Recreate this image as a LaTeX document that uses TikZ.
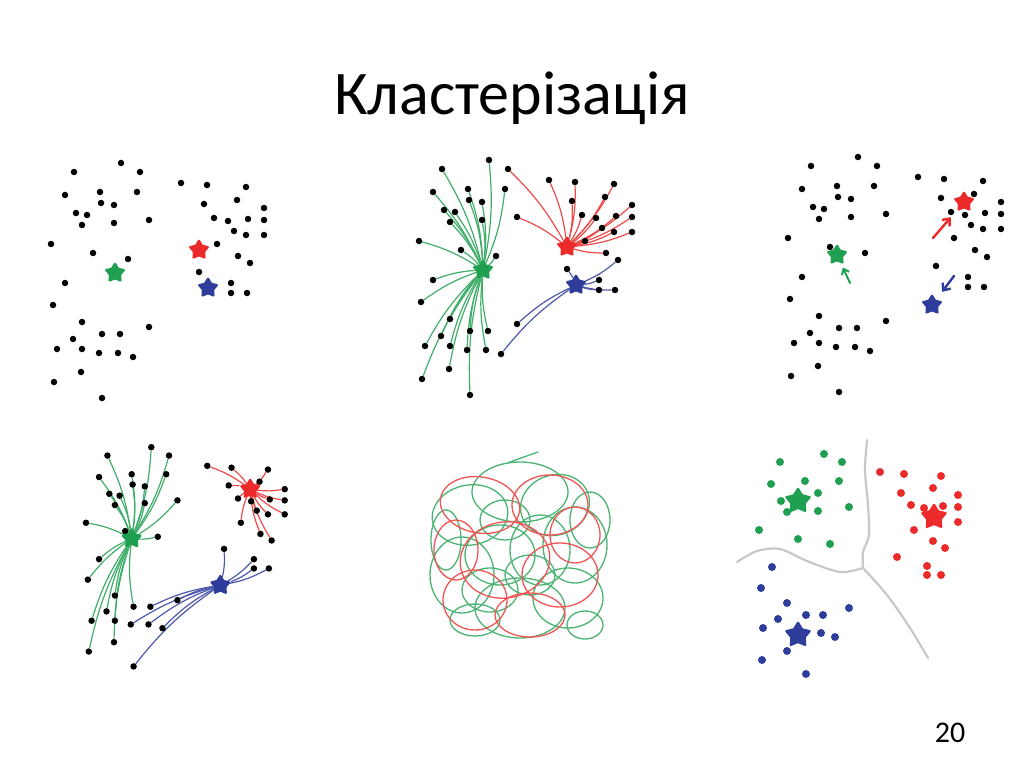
\documentclass[tikz,border=0pt]{standalone}
\usepackage{fontspec}
\setmainfont{Carlito}
\usetikzlibrary{shapes.geometric, arrows.meta, backgrounds}

\definecolor{cg}{RGB}{30,160,80}
\definecolor{cr}{RGB}{236,42,42}
\definecolor{cb}{RGB}{46,60,155}
\definecolor{borde}{RGB}{200,200,200}

\tikzset{
  punto/.style={circle, fill=black, inner sep=0pt, minimum size=6.5pt},
  centro/.style={star, star points=5, star point ratio=1.75, fill=c#1, draw=c#1,
    line width=1.4pt, rounded corners=0.6pt, inner sep=0pt, minimum size=20pt},
  enlace/.style={draw=c#1!85, line width=1.2pt},
  mueve/.style={draw=c#1, line width=2.4pt, -{Straight Barb[length=6pt, width=10pt]},
    shorten >=10pt},
  marana/.style={draw=c#1!80, line width=1.3pt},
  cpunto/.style={circle, fill=c#1, inner sep=0pt, minimum size=8pt},
}

% x/y/grupo antes/grupo despues
\newcommand{\puntos}{121/163/g/g, 74/172/g/g, 140/172/r/g, 65/195/g/g, 100/192/g/g,
  137/192/g/g, 101/203/g/g, 114/205/g/g, 76/213/g/g, 87/215/g/g, 82/225/g/g,
  114/223/g/g, 149/220/r/g, 51/244/g/g, 93/253/g/g, 128/259/g/g, 65/283/g/g,
  53/305/g/g, 82/322/g/g, 149/327/b/b, 102/334/g/g, 120/334/g/b, 73/339/g/g,
  57/349/g/g, 82/349/g/g, 99/353/g/b, 118/353/g/b, 133/357/b/b, 81/372/g/g,
  54/382/g/g, 102/398/g/b, 181/183/r/r, 207/185/r/r, 246/187/r/r, 237/200/r/r,
  204/204/r/r, 264/208/r/r, 214/218/r/r, 228/221/r/r, 248/219/r/r, 264/220/r/r,
  234/231/r/r, 246/235/r/r, 264/235/r/r, 217/244/r/r, 238/256/r/r, 250/263/b/r,
  199/272/b/b, 231/283/b/b, 231/293/b/b, 247/293/b/b}

\begin{document}
\begin{tikzpicture}[x=1pt, y=-1pt, line join=round, line cap=round]
    \useasboundingbox (0,0) rectangle (1024,767);
    \node[anchor=base, font=\fontsize{62}{70}\selectfont] (titulo) at (512,115) {Кластерізація};
    \node[anchor=base, font=\fontsize{30}{34}\selectfont] (pagina) at (950,742) {20};

    % 1: puntos y centros iniciales
    \foreach \x/\y/\a/\b [count=\i] in \puntos
        \node[punto] (a\i) at (\x,\y) {};
    \node[centro=g] (ag) at (115,273) {};
    \node[centro=r] (ar) at (199,250) {};
    \node[centro=b] (ab) at (208,288) {};

    % 2: asignacion al centro mas cercano
    \begin{scope}[shift={(368,-3)}]
        \foreach \x/\y/\a/\b [count=\i] in \puntos
            \node[punto] (b\i) at (\x,\y) {};
        \node[centro=g] (bg) at (115,273) {};
        \node[centro=r] (br) at (199,250) {};
        \node[centro=b] (bb) at (208,288) {};
        \begin{scope}[on background layer]
            \foreach \x/\y/\a/\b [count=\i] in \puntos
                \draw[enlace=\a] (b\i) to[bend left=8] (b\a);
        \end{scope}
    \end{scope}

    % 3: los centros se mueven
    \begin{scope}[shift={(737,-6)}]
        \foreach \x/\y/\a/\b [count=\i] in \puntos
            \node[punto] (c\i) at (\x,\y) {};
        \node[centro=g] (cg) at (100,261) {};
        \node[centro=r] (cr) at (227,208) {};
        \node[centro=b] (cb) at (195,311) {};
        \coordinate (cg0) at (113,289);
        \coordinate (cr0) at (196,244);
        \coordinate (cb0) at (217,282);
        \draw[mueve=g, line width=2pt, -{Straight Barb[length=5pt, width=8pt]}, shorten >=5pt] (cg0) -- (cg);
        \draw[mueve=r] (cr0) -- (cr);
        \draw[mueve=b] (cb0) -- (cb);
    \end{scope}

    % 4: nueva asignacion
    \begin{scope}[shift={(38.4,295.1)}, scale=0.933]
        \foreach \x/\y/\a/\b [count=\i] in \puntos
            \node[punto] (d\i) at (\x,\y) {};
        \node[centro=g] (dg) at (100,261) {};
        \node[centro=r] (dr) at (227,208) {};
        \node[centro=b] (db) at (195,311) {};
        \begin{scope}[on background layer]
            \foreach \x/\y/\a/\b [count=\i] in \puntos
                \draw[enlace=\b] (d\i) to[bend left=8] (d\b);
        \end{scope}
    \end{scope}

    % 5: marana
    \foreach \cx/\cy/\rx/\ry/\ang/\c in {
        575/545/32/38/0/g, 520/492/48/30/0/g, 470/515/38/30/10/g, 462/575/32/38/0/g,
        520/608/45/30/0/g, 568/598/35/30/0/g, 555/505/35/30/20/g, 500/555/35/30/0/g,
        540/550/30/35/0/g, 490/590/28/22/0/g, 590/520/20/28/0/g, 446/540/15/30/0/g,
        505/520/25/20/0/g, 585/625/18/14/0/g, 475/620/25/16/0/g, 530/575/25/20/0/g,
        480/505/40/28/-10/r, 550/505/38/30/0/r, 505/560/45/38/10/r, 560/575/38/32/0/r,
        475/600/32/30/0/r, 530/615/35/22/0/r, 456/550/22/30/0/r, 575/535/25/28/0/r}
        \draw[marana=\c, rotate around={\ang:(\cx,\cy)}] (\cx,\cy) ellipse [x radius=\rx, y radius=\ry];
    \draw[marana=g] (508,463) .. controls (520,458) and (530,455) .. (538,452);

    % 6: resultado final
    \foreach \x/\y [count=\i] in {780/462, 824/454, 842/462, 771/484, 805/481, 839/481,
        818/493, 781/501, 787/512, 818/511, 849/507, 759/530, 798/539, 830/544}
        \node[cpunto=g] (fg\i) at (\x,\y) {};
    \foreach \x/\y [count=\i] in {880/472, 904/474, 941/476, 901/493, 933/488, 958/495,
        911/505, 924/508, 943/506, 958/507, 958/522, 914/530, 933/541, 945/548,
        897/557, 927/566, 927/575, 941/575}
        \node[cpunto=r] (fr\i) at (\x,\y) {};
    \foreach \x/\y [count=\i] in {772/567, 761/588, 787/603, 849/608, 778/619, 806/615,
        823/615, 763/628, 821/633, 835/637, 787/651, 762/660, 806/674}
        \node[cpunto=b] (fb\i) at (\x,\y) {};
    \node[centro=g, minimum size=26pt] (fg) at (798,501) {};
    \node[centro=r, minimum size=26pt] (fr) at (934,517) {};
    \node[centro=b, minimum size=26pt] (fb) at (798,635) {};
    \coordinate (union) at (863,568);
    \draw[borde, line width=2.2pt] plot[smooth] coordinates {(867,440) (865,470) (868,505) (869,535) (863,552) (union)};
    \draw[borde, line width=2.2pt] plot[smooth] coordinates {(union) (840,572) (807,561) (780,549) (757,551) (737,562)};
    \draw[borde, line width=2.2pt] plot[smooth] coordinates {(union) (887,595) (910,628) (928,658)};
\end{tikzpicture}
\end{document}
